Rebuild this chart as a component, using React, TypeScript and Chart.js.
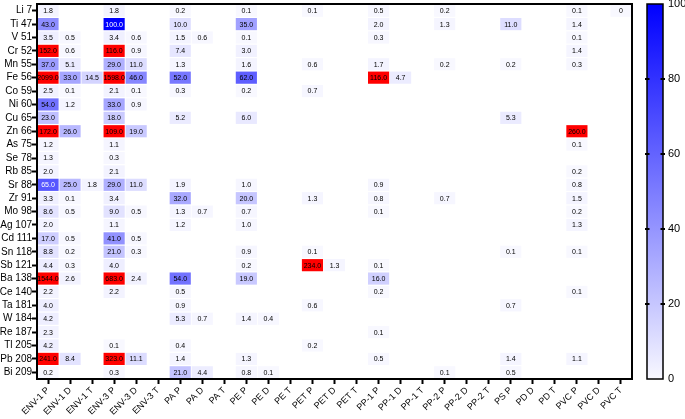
import React, { useEffect, useRef } from "react";
import { Chart, registerables } from "chart.js";

Chart.register(...registerables);

const N = null;

const columns = [
  "ENV-1 P", "ENV-1 D", "ENV-1 T", "ENV-3 P", "ENV-3 D", "ENV-3 T",
  "PA P", "PA D", "PA T", "PE P", "PE D", "PE T",
  "PET P", "PET D", "PET T", "PP-1 P", "PP-1 D", "PP-1 T",
  "PP-2 P", "PP-2 D", "PP-2 T", "PS P", "PD D", "PD T",
  "PVC P", "PVC D", "PVC T",
];

const rowLabels = [
  "Li 7", "Ti 47", "V 51", "Cr 52", "Mn 55", "Fe 56", "Co 59", "Ni 60", "Cu 65", "Zn 66",
  "As 75", "Se 78", "Rb 85", "Sr 88", "Zr 91", "Mo 98", "Ag 107", "Cd 111", "Sn 118", "Sb 121",
  "Ba 138", "Ce 140", "Ta 181", "W 184", "Re 187", "Tl 205", "Pb 208", "Bi 209",
];

// values per element row, in the column order above (null = empty cell)
const Li7 = [1.8, N, N, 1.8, N, N, 0.2, N, N, 0.1, N, N, 0.1, N, N, 0.5, N, N, 0.2, N, N, N, N, N, 0.1, N, 0];
const Ti47 = [43, N, N, 100, N, N, 10, N, N, 35, N, N, N, N, N, 2, N, N, 1.3, N, N, 11, N, N, 1.4, N, N];
const V51 = [3.5, 0.5, N, 3.4, 0.6, N, 1.5, 0.6, N, 0.1, N, N, N, N, N, 0.3, N, N, N, N, N, N, N, N, 0.1, N, N];
const Cr52 = [152, 0.6, N, 116, 0.9, N, 7.4, N, N, 3.0, N, N, N, N, N, N, N, N, N, N, N, N, N, N, 1.4, N, N];
const Mn55 = [37, 5.1, N, 29, 11, N, 1.3, N, N, 1.6, N, N, 0.6, N, N, 1.7, N, N, 0.2, N, N, 0.2, N, N, 0.3, N, N];
const Fe56 = [2099, 33, 14.5, 1598, 46, N, 52, N, N, 62, N, N, N, N, N, 116, 4.7, N, N, N, N, N, N, N, N, N, N];
const Co59 = [2.5, 0.1, N, 2.1, 0.1, N, 0.3, N, N, 0.2, N, N, 0.7, N, N, N, N, N, N, N, N, N, N, N, N, N, N];
const Ni60 = [54, 1.2, N, 33, 0.9, N, N, N, N, N, N, N, N, N, N, N, N, N, N, N, N, N, N, N, N, N, N];
const Cu65 = [23, N, N, 18, N, N, 5.2, N, N, 6.0, N, N, N, N, N, N, N, N, N, N, N, 5.3, N, N, N, N, N];
const Zn66 = [172, 26, N, 109, 19, N, N, N, N, N, N, N, N, N, N, N, N, N, N, N, N, N, N, N, 260, N, N];
const As75 = [1.2, N, N, 1.1, N, N, N, N, N, N, N, N, N, N, N, N, N, N, N, N, N, N, N, N, 0.1, N, N];
const Se78 = [1.3, N, N, 0.3, N, N, N, N, N, N, N, N, N, N, N, N, N, N, N, N, N, N, N, N, N, N, N];
const Rb85 = [2.0, N, N, 2.1, N, N, N, N, N, N, N, N, N, N, N, N, N, N, N, N, N, N, N, N, 0.2, N, N];
const Sr88 = [65, 25, 1.8, 29, 11, N, 1.9, N, N, 1.0, N, N, N, N, N, 0.9, N, N, N, N, N, N, N, N, 0.8, N, N];
const Zr91 = [3.3, 0.1, N, 3.4, N, N, 32, N, N, 20, N, N, 1.3, N, N, 0.8, N, N, 0.7, N, N, N, N, N, 1.5, N, N];
const Mo98 = [8.6, 0.5, N, 9.0, 0.5, N, 1.3, 0.7, N, 0.7, N, N, N, N, N, 0.1, N, N, N, N, N, N, N, N, 0.2, N, N];
const Ag107 = [2.0, N, N, 1.1, N, N, 1.2, N, N, 1.0, N, N, N, N, N, N, N, N, N, N, N, N, N, N, 1.3, N, N];
const Cd111 = [17, 0.5, N, 41, 0.5, N, N, N, N, N, N, N, N, N, N, N, N, N, N, N, N, N, N, N, N, N, N];
const Sn118 = [8.8, 0.2, N, 21, 0.3, N, N, N, N, 0.9, N, N, 0.1, N, N, N, N, N, N, N, N, 0.1, N, N, 0.1, N, N];
const Sb121 = [4.4, 0.3, N, 4.0, N, N, N, N, N, 0.2, N, N, 234, 1.3, N, 0.1, N, N, N, N, N, N, N, N, N, N, N];
const Ba138 = [1544, 2.6, N, 683, 2.4, N, 54, N, N, 19, N, N, N, N, N, 16, N, N, N, N, N, N, N, N, N, N, N];
const Ce140 = [2.2, N, N, 2.2, N, N, 0.5, N, N, N, N, N, N, N, N, 0.2, N, N, N, N, N, N, N, N, 0.1, N, N];
const Ta181 = [4.0, N, N, N, N, N, 0.9, N, N, N, N, N, 0.6, N, N, N, N, N, N, N, N, 0.7, N, N, N, N, N];
const W184 = [4.2, N, N, N, N, N, 5.3, 0.7, N, 1.4, 0.4, N, N, N, N, N, N, N, N, N, N, N, N, N, N, N, N];
const Re187 = [2.3, N, N, N, N, N, N, N, N, N, N, N, N, N, N, 0.1, N, N, N, N, N, N, N, N, N, N, N];
const Tl205 = [4.2, N, N, 0.1, N, N, 0.4, N, N, N, N, N, 0.2, N, N, N, N, N, N, N, N, N, N, N, N, N, N];
const Pb208 = [241, 8.4, N, 323, 11.1, N, 1.4, N, N, 1.3, N, N, N, N, N, 0.5, N, N, N, N, N, 1.4, N, N, 1.1, N, N];
const Bi209 = [0.2, N, N, 0.3, N, N, 21, 4.4, N, 0.8, 0.1, N, N, N, N, N, N, N, 0.1, N, N, 0.5, N, N, N, N, N];

const cellRows: (number | null)[][] = [
  Li7, Ti47, V51, Cr52, Mn55, Fe56, Co59, Ni60, Cu65, Zn66,
  As75, Se78, Rb85, Sr88, Zr91, Mo98, Ag107, Cd111, Sn118, Sb121,
  Ba138, Ce140, Ta181, W184, Re187, Tl205, Pb208, Bi209,
];

const colorbarTicks = [0, 20, 40, 60, 80, 100];
const colorMax = 100;

const FONT = "'Liberation Sans', Arial, Helvetica, sans-serif";

function cellColor(v: number): string {
  if (v > colorMax) return "rgb(255,0,0)";
  const t = Math.max(0, v) / colorMax;
  const c = Math.round(248 * (1 - t));
  return `rgb(${c},${c},255)`;
}

function fmt(v: number): string {
  return v === 0 ? "0" : v.toFixed(1);
}

export default function App() {
  const ref = useRef<HTMLCanvasElement>(null);

  useEffect(() => {
    document.body.style.margin = "0";
    const canvas = ref.current;
    if (!canvas) return;

    const datasets = cellRows.map((vals, r) => ({
      label: rowLabels[r],
      data: vals.map((v) => (v == null ? null : [r + 0.07, r + 0.93])),
      backgroundColor: vals.map((v) => (v == null ? "rgba(0,0,0,0)" : cellColor(v))),
      borderWidth: 0,
      barThickness: 20.5,
      grouped: false,
      xAxisID: "x",
      yAxisID: "y",
    }));

    const textPlugin = {
      id: "cellText",
      afterDatasetsDraw(chart: any) {
        const ctx = chart.ctx;
        ctx.save();
        ctx.font = `7px ${FONT}`;
        ctx.textAlign = "center";
        ctx.textBaseline = "middle";
        cellRows.forEach((vals, r) => {
          const meta = chart.getDatasetMeta(r);
          vals.forEach((v, c) => {
            if (v == null) return;
            const el = meta.data[c];
            if (!el) return;
            const cy = (el.y + el.base) / 2;
            ctx.fillStyle = v >= 64 && v <= colorMax ? "#ffffff" : "#000000";
            ctx.fillText(fmt(v), el.x, cy + 0.5);
          });
        });
        ctx.restore();
      },
    };

    const framePlugin = {
      id: "frameAndColorbar",
      afterDraw(chart: any) {
        const ctx = chart.ctx;
        const a = chart.chartArea;
        ctx.save();
        ctx.strokeStyle = "#000";
        ctx.lineWidth = 2;
        ctx.strokeRect(a.left, a.top, a.right - a.left, a.bottom - a.top);

        const cb = chart.scales.cb;
        const top = cb.getPixelForValue(colorMax);
        const bottom = cb.getPixelForValue(0);
        const x0 = a.right + 15;
        const w = 16;
        const g = ctx.createLinearGradient(0, bottom, 0, top);
        g.addColorStop(0, cellColor(0));
        g.addColorStop(1, cellColor(colorMax));
        ctx.fillStyle = g;
        ctx.fillRect(x0, top, w, bottom - top);
        ctx.lineWidth = 1.5;
        ctx.strokeRect(x0, top, w, bottom - top);
        ctx.lineWidth = 2;
        colorbarTicks.forEach((t) => {
          if (t === 0 || t === colorMax) return;
          const y = cb.getPixelForValue(t);
          ctx.beginPath();
          ctx.moveTo(x0 - 2, y);
          ctx.lineTo(x0 + 2.5, y);
          ctx.moveTo(x0 + w - 2.5, y);
          ctx.lineTo(x0 + w + 2, y);
          ctx.stroke();
        });
        ctx.restore();
      },
    };

    const chart = new Chart(canvas, {
      type: "bar",
      data: { labels: columns, datasets: datasets as any },
      options: {
        animation: false,
        responsive: false,
        devicePixelRatio: 1,
        layout: { padding: { top: 4, left: 0, right: 0, bottom: 0 } },
        plugins: {
          legend: { display: false },
          tooltip: { enabled: false },
        },
        scales: {
          x: {
            type: "category",
            offset: true,
            grid: {
              offset: false,
              drawOnChartArea: false,
              drawTicks: true,
              tickLength: 5,
              tickWidth: 2,
              tickColor: "#000",
            },
            border: { display: false },
            ticks: {
              autoSkip: false,
              minRotation: 45,
              maxRotation: 45,
              padding: 1,
              color: "#000",
              font: { family: FONT, size: 9 },
            },
            afterFit: (s: any) => {
              s.height = 40;
              s.paddingLeft = 0;
              s.paddingRight = 0;
            },
          },
          y: {
            type: "linear",
            position: "left",
            min: 0,
            max: rowLabels.length,
            reverse: true,
            grid: {
              drawOnChartArea: false,
              drawTicks: true,
              tickLength: 5,
              tickWidth: 2,
              tickColor: "#000",
            },
            border: { display: false },
            afterBuildTicks: (s: any) => {
              s.ticks = rowLabels.map((_, i) => ({ value: i + 0.5 }));
            },
            ticks: {
              autoSkip: false,
              padding: 0,
              color: "#000",
              font: { family: FONT, size: 10 },
              callback: (_v: any, i: number) => rowLabels[i],
            },
            afterFit: (s: any) => {
              s.width = 37;
              s.paddingTop = 0;
              s.paddingBottom = 0;
            },
          },
          cb: {
            type: "linear",
            position: "right",
            min: 0,
            max: colorMax,
            grid: { display: false, drawTicks: false, drawOnChartArea: false },
            border: { display: false },
            afterBuildTicks: (s: any) => {
              s.ticks = colorbarTicks.map((v) => ({ value: v }));
            },
            ticks: {
              autoSkip: false,
              padding: 36,
              color: "#000",
              font: { family: FONT, size: 11 },
            },
            afterFit: (s: any) => {
              s.width = 53;
              s.paddingTop = 0;
              s.paddingBottom = 0;
            },
          },
        },
      },
      plugins: [textPlugin, framePlugin],
    });

    return () => chart.destroy();
  }, []);

  return (
    <div style={{ width: 685, height: 419 }}>
      <canvas ref={ref} width={685} height={419} style={{ display: "block" }} />
    </div>
  );
}
